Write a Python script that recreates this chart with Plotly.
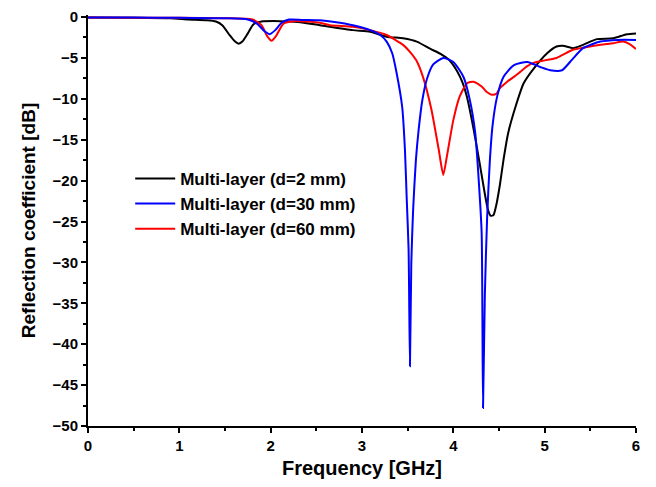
import plotly.graph_objects as go

# Frequency sweep (GHz) and reflection coefficient (dB) for each configuration
freq_d2 = [0, 0.5, 0.9, 1.1, 1.3, 1.4, 1.47, 1.55, 1.61, 1.65, 1.69, 1.75, 1.81, 1.9, 2.1,
           2.3, 2.54, 2.9, 3.09, 3.27, 3.45, 3.6, 3.75, 3.86, 3.95, 4.04, 4.1, 4.15, 4.22,
           4.29, 4.34, 4.38, 4.41, 4.44, 4.47, 4.51, 4.55, 4.60, 4.68, 4.77, 4.88, 5.03,
           5.13, 5.2, 5.31, 5.42, 5.57, 5.75, 5.9, 6.0]
s11_d2 = [-0.05, -0.08, -0.15, -0.3, -0.4, -0.55, -1.0, -2.2, -3.0, -3.25, -3.0, -2.0,
          -0.9, -0.55, -0.5, -0.6, -1.0, -1.6, -1.8, -2.4, -2.6, -3.0, -3.9, -4.5, -5.2,
          -6.6, -8.0, -9.8, -13.6, -18.0, -21.3, -23.6, -24.3, -24.2, -23.0, -20.5, -17.4,
          -14.2, -11.0, -8.1, -6.3, -4.4, -3.6, -3.5, -3.8, -3.4, -2.7, -2.6, -2.1, -2.0]

freq_d30 = [0, 0.5, 1.0, 1.5, 1.75, 1.85, 1.93, 1.99, 2.05, 2.12, 2.2, 2.35, 2.54, 2.7,
            2.9, 3.09, 3.2, 3.27, 3.33, 3.38, 3.44, 3.47, 3.49, 3.51, 3.525, 3.54, 3.56,
            3.59, 3.62, 3.66, 3.71, 3.78, 3.89, 4.0, 4.11, 4.18, 4.24, 4.28, 4.31, 4.325,
            4.345, 4.37, 4.40, 4.43, 4.48, 4.55, 4.66, 4.81, 4.95, 5.06, 5.19, 5.3, 5.42,
            5.61, 5.8, 6.0]
s11_d30 = [-0.05, -0.05, -0.1, -0.15, -0.3, -0.8, -1.7, -2.1, -1.6, -0.7, -0.3, -0.35,
           -0.4, -0.6, -1.0, -1.6, -2.2, -3.0, -4.4, -6.9, -11.0, -16.2, -22.3, -28.4,
           -42.7, -30.0, -23.5, -17.5, -13.8, -10.2, -7.6, -5.8, -5.0, -5.5, -7.3, -10.1,
           -14.2, -20.3, -26.4, -47.8, -34.0, -24.5, -17.5, -13.2, -9.7, -7.3, -5.9, -5.5,
           -6.1, -6.5, -6.5, -5.2, -3.8, -3.0, -2.8, -2.8]

freq_d60 = [0, 0.5, 1.0, 1.5, 1.8, 1.9, 1.96, 2.01, 2.06, 2.14, 2.25, 2.54, 2.65, 2.9,
            3.09, 3.27, 3.45, 3.52, 3.60, 3.67, 3.76, 3.84, 3.89, 3.93, 4.0, 4.07, 4.15,
            4.22, 4.31, 4.37, 4.42, 4.47, 4.51, 4.59, 4.70, 4.81, 4.88, 5.0, 5.13, 5.31,
            5.45, 5.61, 5.75, 5.86, 5.93, 6.0]
s11_d60 = [-0.05, -0.1, -0.1, -0.15, -0.3, -1.0, -2.3, -2.9, -2.3, -0.8, -0.5, -0.7,
           -1.0, -1.2, -1.6, -2.2, -3.4, -4.2, -5.4, -7.4, -11.3, -16.2, -19.3, -17.0,
           -12.6, -9.7, -8.1, -7.9, -8.5, -9.2, -9.5, -9.4, -8.7, -7.9, -7.0, -6.0, -5.6,
           -5.3, -5.0, -4.0, -3.7, -3.4, -3.2, -3.0, -3.3, -3.9]

labels = ["Multi-layer (d=2 mm)", "Multi-layer (d=30 mm)", "Multi-layer (d=60 mm)"]

FONT = "Liberation Sans, Arial, sans-serif"

def curve(x, y, name, color, rank):
    return go.Scatter(x=x, y=y, mode="lines", name=name, legendrank=rank,
                      line=dict(color=color, width=2, shape="spline", smoothing=0.6))

fig = go.Figure()
fig.add_trace(curve(freq_d2, s11_d2, labels[0], "#000000", 1))
fig.add_trace(curve(freq_d60, s11_d60, labels[2], "#ff0000", 3))
fig.add_trace(curve(freq_d30, s11_d30, labels[1], "#0000ff", 2))

axis_common = dict(
    showline=True, linecolor="black", linewidth=2, mirror=False,
    showgrid=False, zeroline=False,
    ticks="outside", tickcolor="black", tickwidth=1.5, ticklen=5,
    tickfont=dict(family=FONT, size=15, color="black", weight="bold"),
)

fig.update_xaxes(
    range=[0, 6], dtick=1, tick0=0,
    minor=dict(dtick=0.5, ticks="outside", ticklen=3, tickcolor="black", tickwidth=1.5),
    title=dict(text="Frequency [GHz]", standoff=8,
               font=dict(family=FONT, size=20, color="black", weight="bold")),
    **axis_common,
)
fig.update_yaxes(
    range=[-50, 0.25], dtick=5, tick0=0,
    minor=dict(dtick=2.5, ticks="outside", ticklen=3, tickcolor="black", tickwidth=1.5),
    title=dict(text="Reflection coefficient [dB]", standoff=12,
               font=dict(family=FONT, size=19, color="black", weight="bold")),
    **axis_common,
)

fig.update_layout(
    width=656, height=487,
    margin=dict(l=88, r=20, t=15, b=61, autoexpand=False),
    paper_bgcolor="white", plot_bgcolor="white",
    showlegend=True,
    legend=dict(
        x=0.077, y=0.645, xanchor="left", yanchor="top",
        bgcolor="rgba(0,0,0,0)", borderwidth=0,
        font=dict(family=FONT, size=17, color="black", weight="bold"),
        itemwidth=40,
    ),
)

fig.write_html("out.html", include_plotlyjs=True, full_html=True,
               config={"displayModeBar": False})
